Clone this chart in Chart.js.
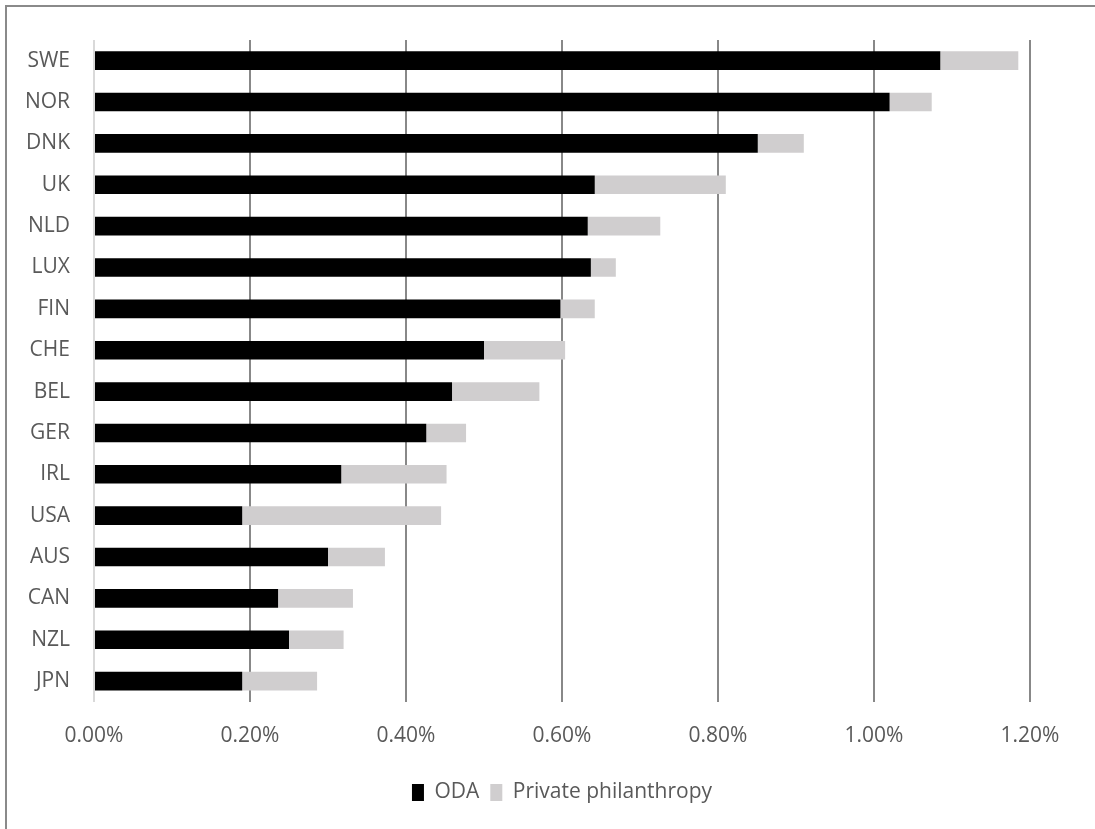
<!DOCTYPE html>
<html>
<head>
<meta charset="utf-8">
<script src="https://cdn.jsdelivr.net/npm/chart.js@4/dist/chart.umd.min.js"></script>
<style>
  html, body { margin: 0; padding: 0; background: #fff; }
  #wrap { position: relative; width: 1095px; height: 829px; overflow: hidden; }
  #frame { position: absolute; left: 5px; top: 5px; width: 1200px; height: 900px;
           border-top: 2px solid #8a8a8a; border-left: 2px solid #8a8a8a; }
  #c { position: absolute; left: 0; top: 0; }
</style>
</head>
<body>
<div id="wrap">
  <div id="frame"></div>
  <canvas id="c" width="1095" height="829"></canvas>
</div>
<script>
// countries, top to bottom
const countries = ["SWE", "NOR", "DNK", "UK", "NLD", "LUX", "FIN", "CHE", "BEL", "GER", "IRL", "USA", "AUS", "CAN", "NZL", "JPN"];
// % of GNI
const oda = [1.085, 1.020, 0.851, 0.642, 0.633, 0.637, 0.598, 0.500, 0.459, 0.426, 0.317, 0.190, 0.300, 0.236, 0.250, 0.190];
const privatePhil = [0.100, 0.054, 0.059, 0.168, 0.093, 0.032, 0.044, 0.104, 0.112, 0.051, 0.135, 0.255, 0.073, 0.096, 0.070, 0.096];
const xTicks = [0, 0.2, 0.4, 0.6, 0.8, 1.0, 1.2];

const greyText = '#595959';
Chart.defaults.font.family = '"Open Sans", sans-serif';
Chart.defaults.color = greyText;

// centre the legend under the plot area instead of the whole canvas
const shiftLegend = {
  id: 'shiftLegend',
  afterLayout(chart) {
    const lg = chart.legend;
    const dx = (chart.chartArea.left + chart.chartArea.right) / 2 - (lg.left + lg.right) / 2;
    lg.left += dx;
    lg.right += dx;
  }
};

let ctx = document.getElementById('c').getContext('2d');

let chart = new Chart(ctx, {
  type: 'bar',
  data: {
    labels: countries,
    datasets: [
      { label: 'ODA', data: oda, backgroundColor: '#000000' },
      { label: 'Private philanthropy', data: privatePhil, backgroundColor: '#d0cecf' }
    ]
  },
  options: {
    indexAxis: 'y',
    responsive: false,
    animation: false,
    layout: { padding: { top: 40, right: 65, bottom: 16, left: 0 } },
    datasets: { bar: { categoryPercentage: 1, barPercentage: 0.45 } },
    scales: {
      x: {
        stacked: true,
        min: 0,
        max: 1.2,
        afterBuildTicks: (scale) => { scale.ticks = xTicks.map(v => ({ value: v })); },
        ticks: {
          font: { size: 21 },
          color: greyText,
          padding: 22,
          callback: (v) => v.toFixed(2) + '%'
        },
        grid: {
          drawTicks: false,
          lineWidth: 2,
          color: (c) => c.index === 0 ? '#d9d9d9' : '#888888'
        },
        border: { display: false }
      },
      y: {
        stacked: true,
        afterFit: (scale) => { scale.width = 94; },
        ticks: { font: { size: 21 }, color: greyText, padding: 24 },
        grid: { display: false, drawTicks: false },
        border: { display: false }
      }
    },
    plugins: {
      legend: {
        position: 'bottom',
        labels: {
          font: { size: 21 },
          color: greyText,
          boxWidth: 12,
          boxHeight: 17,
          padding: 11
        }
      },
      tooltip: { enabled: false }
    }
  },
  plugins: [shiftLegend]
});
</script>
</body>
</html>
